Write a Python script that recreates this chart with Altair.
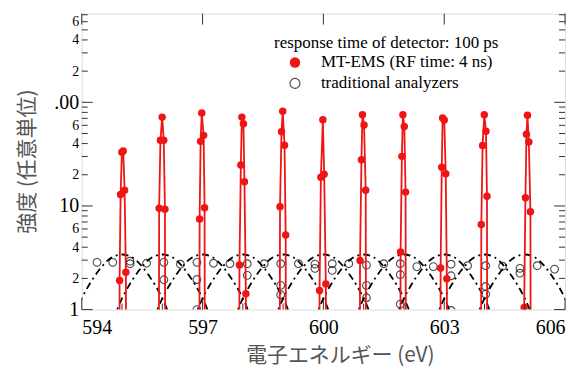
import altair as alt
import pandas as pd

# ---------------- data ----------------
# MT-EMS (RF time: 4 ns) : visible measured points
mt_x = [594.94, 594.965, 594.997, 595.03, 595.064, 595.096,
        595.922, 595.954, 595.997, 596.036, 596.066,
        596.927, 596.952, 596.98, 597.026, 597.05,
        597.916, 597.951, 597.976, 598.015, 598.04, 598.075,
        598.923, 598.96, 598.99, 599.035, 599.064,
        599.905, 599.938, 599.987, 600.019, 600.061,
        600.91, 600.945, 600.97, 601.009, 601.051,
        601.917, 601.949, 601.974, 602.009, 602.041,
        602.911, 602.939, 602.961, 603.001, 603.038, 603.065,
        603.921, 603.953, 603.995, 604.037, 604.062,
        604.985, 605.017, 605.042, 605.067, 605.101, 605.141]
mt_y = [1.91, 12.9, 33, 34, 14.2, 2.29,
        9.5, 43, 72, 43, 9.3,
        7.5, 42, 79, 48, 9.6,
        2.69, 24.8, 72, 62, 17.1, 1.42,
        9.85, 52, 82, 38.6, 5.24,
        1.53, 18.9, 68, 20.2, 1.77,
        2.98, 27.9, 76, 60.5, 14.2,
        3.59, 30.1, 76, 58.4, 13.6,
        2.52, 23.6, 70.5, 67.7, 20.5, 1.98,
        6.61, 38.3, 76, 52.6, 12.4,
        1.05, 12.0, 49.2, 75, 41.5, 8.8]
# positions where the MT-EMS line leaves the bottom of the plot (value below 1)
mt_floor_x = [594.93, 595.105, 595.91, 596.08, 596.915, 597.062,
              597.905, 598.085, 598.91, 599.075, 599.895, 600.07,
              600.9, 601.062, 601.905, 602.052, 602.9, 603.075,
              603.91, 604.072, 604.975, 605.152]
mt_floor_y = 0.01

# traditional analyzers : open circles
tr_x = [594.38, 594.77, 595.20, 595.20, 595.61, 596.04, 596.04, 596.45,
        596.86, 596.86, 596.86, 597.27, 597.68, 598.11, 598.11, 598.53,
        598.94, 598.94, 598.94, 599.38, 599.79, 599.79, 600.22, 600.22,
        600.63, 601.07, 601.07, 601.07, 601.50, 601.91, 601.91, 601.91,
        602.32, 602.73, 603.17, 603.17, 603.17, 603.58, 604.03, 604.03,
        604.03, 604.45, 604.88, 604.88, 605.31, 605.74]
tr_y = [2.86, 2.86, 2.93, 2.77, 2.8, 2.86, 1.94, 2.74,
        2.86, 1.95, 1.0, 2.8, 2.77, 2.77, 2.14, 2.77,
        2.77, 1.71, 1.39, 2.77, 2.75, 2.5, 2.77, 2.39,
        2.77, 2.69, 1.71, 1.30, 2.77, 2.77, 2.17, 1.13,
        2.6, 2.6, 2.74, 2.12, 0.98, 2.65, 2.65, 1.67,
        1.41, 2.62, 2.5, 2.25, 2.65, 2.46]

# traditional analyzers : broad response curves (dash-dot), one per peak
arc_centers = [595, 596, 597, 598, 599, 600, 601, 602, 603, 604, 605]
arc_offset = [-1.3, -1.12, -1.0, -0.83, -0.68, -0.5, -0.25, 0.0,
              0.25, 0.5, 0.68, 0.83, 1.0, 1.12, 1.3]
arc_value = [0.55, 1.0, 1.28, 1.7, 2.1, 2.6, 3.2, 3.4,
             3.2, 2.6, 2.1, 1.7, 1.28, 1.0, 0.55]

x_ticks = [594, 597, 600, 603, 606]
x_minor = [595, 596, 598, 599, 601, 602, 604, 605]
y_labels = [1, 2, 4, 6, 10, 20, 40, 60, 100, 200, 400, 600]
y_major = [1, 10, 100]
y_minor = [2, 3, 4, 5, 6, 7, 8, 9, 20, 30, 40, 50, 60, 70, 80, 90,
           200, 300, 400, 500, 600, 700]

legend_title = "response time of detector: 100 ps"
legend_mt = "MT-EMS (RF time: 4 ns)"
legend_tr = "traditional analyzers"
x_title = "電子エネルギー (eV)"
y_title = "強度 (任意単位)"

# ---------------- tables ----------------
mt_df = pd.DataFrame({"e": mt_x, "v": mt_y})
mt_line_df = pd.concat([
    mt_df,
    pd.DataFrame({"e": mt_floor_x, "v": [mt_floor_y] * len(mt_floor_x)})
]).sort_values("e")
tr_df = pd.DataFrame({"e": tr_x, "v": tr_y})
arc_rows = []
for c in arc_centers:
    for o, v in zip(arc_offset, arc_value):
        arc_rows.append({"e": c + o, "v": v, "arc": c})
arc_df = pd.DataFrame(arc_rows)

W, H = 485, 297
SERIF = "Liberation Serif"
CJK = "Noto Sans CJK JP"
RED = "#f01414"
xs = alt.Scale(domain=[594, 606], nice=False, zero=False)
ys = alt.Scale(type="log", domain=[1, 718], nice=False)

is_decade = "datum.value == 1 || datum.value == 10 || datum.value == 100"

x_axis = alt.Axis(values=x_ticks, format="d", ticks=False, tickSize=0, domain=False,
                  grid=False, labelFont=SERIF, labelFontSize=20, labelColor="black",
                  labelPadding=8, labelOverlap=False, title=x_title, titleFont=CJK,
                  titleFontSize=21, titleFontWeight="normal", titleColor="#555555",
                  titleX=259, titleY=46, titleBaseline="middle")
y_axis = alt.Axis(values=y_labels, format="d", ticks=False, tickSize=0, domain=False,
                  grid=False, labelFont=SERIF,
                  labelFontSize={"condition": {"test": is_decade, "value": 20}, "value": 14},
                  labelColor="black", labelPadding=3, labelOverlap=False,
                  labelExpr="datum.value == 100 ? '.00' : ((datum.value == 1 || datum.value == 10) ? datum.label : substring(datum.label, 0, 1))",
                  title=y_title, titleFont=CJK, titleFontSize=21, titleFontWeight="normal",
                  titleColor="#555555", titleX=-54, titleY=148, titleAngle=-90,
                  titleBaseline="middle", titleAlign="center")

arcs = alt.Chart(arc_df).mark_line(
    clip=True, color="black", strokeWidth=1.8, strokeDash=[7, 4, 2, 4],
    interpolate="monotone"
).encode(
    x=alt.X("e:Q", scale=xs, axis=x_axis),
    y=alt.Y("v:Q", scale=ys, axis=y_axis),
    detail="arc:N",
)

circles = alt.Chart(tr_df).mark_point(
    shape="circle", filled=False, color="black", size=60, strokeWidth=1.1, clip=True
).encode(x=alt.X("e:Q", scale=xs), y=alt.Y("v:Q", scale=ys))

red_line = alt.Chart(mt_line_df).mark_line(
    color=RED, strokeWidth=1.8, clip=True
).encode(x=alt.X("e:Q", scale=xs), y=alt.Y("v:Q", scale=ys))

red_pts = alt.Chart(mt_df).mark_circle(
    color=RED, size=56, opacity=1, clip=True
).encode(x=alt.X("e:Q", scale=xs), y=alt.Y("v:Q", scale=ys))


def yrule(vals, x0, x1):
    return alt.Chart(pd.DataFrame({"v": vals})).mark_rule(
        color="#333333", strokeWidth=1
    ).encode(y=alt.Y("v:Q", scale=ys), x=alt.value(x0), x2=alt.value(x1))


def xrule(vals, y0, y1):
    return alt.Chart(pd.DataFrame({"e": vals})).mark_rule(
        color="#333333", strokeWidth=1
    ).encode(x=alt.X("e:Q", scale=xs), y=alt.value(y0), y2=alt.value(y1))


ticks = [
    yrule(y_major, 0, 11), yrule(y_minor, 0, 6),
    yrule(y_major, W - 11, W), yrule(y_minor, W - 6, W),
    xrule(x_ticks, 0, 11), xrule(x_ticks, H - 11, H), xrule(x_minor, H - 6, H),
]


def label(text, x, y, size=17):
    return alt.Chart(pd.DataFrame({"t": [text]})).mark_text(
        font=SERIF, fontSize=size, align="left", baseline="middle", color="black",
        fontWeight="normal"
    ).encode(text="t:N", x=alt.value(x), y=alt.value(y))


one = pd.DataFrame({"k": [0]})
leg_red = alt.Chart(one).mark_point(
    shape="circle", filled=True, color=RED, size=110, opacity=1
).encode(x=alt.value(214), y=alt.value(49))
leg_open = alt.Chart(one).mark_point(
    shape="circle", filled=False, color="black", size=100, strokeWidth=1.1
).encode(x=alt.value(214), y=alt.value(70))

legend = [label(legend_title, 193, 30), leg_red, label(legend_mt, 240, 49),
          leg_open, label(legend_tr, 240, 70)]

chart = alt.layer(arcs, circles, red_line, red_pts, *ticks, *legend).properties(
    width=W, height=H,
    autosize=alt.AutoSizeParams(type="none"),
    padding={"left": 74, "top": 5, "right": 10, "bottom": 62},
).configure_view(stroke="#333333", strokeWidth=1.2).configure(background="white")

chart.save("out.html", embed_options={"renderer": "svg", "actions": False})
